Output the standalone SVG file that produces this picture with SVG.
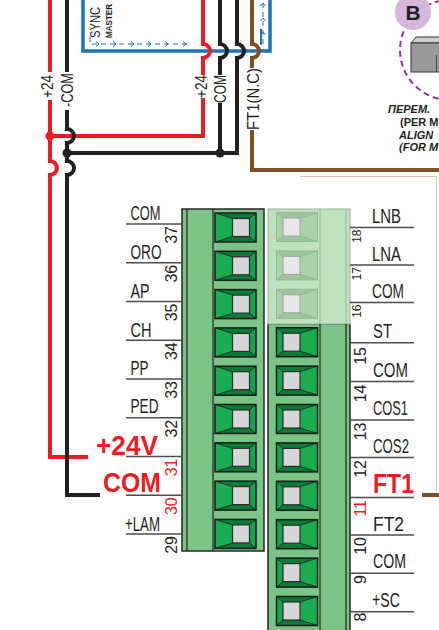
<svg xmlns="http://www.w3.org/2000/svg" width="439" height="630" viewBox="0 0 439 630">
<style>
  .w{fill:none;stroke-width:4;stroke-linejoin:miter}
  .red{stroke:#ed1c24}
  .blk{stroke:#231f20}
  .brn{stroke:#7f4f23}
  .blu{fill:none;stroke:#1c75bc;stroke-width:3.5}
  .dash{fill:none;stroke:#1c75bc;stroke-width:1;stroke-dasharray:5 4}
  .chev{fill:none;stroke:#1c75bc;stroke-width:1}
  .narrow{font-family:"Liberation Sans Narrow","Liberation Sans",Arial,sans-serif}
  .lbl{font-size:20px;fill:#231f20}
  .num{font-size:16px;fill:#231f20}
  .sm{font-size:12px;fill:#231f20}
  .wl{font-size:17px;fill:#231f20}
  .hot{font-family:"Liberation Sans",Arial,sans-serif;font-weight:bold;font-size:28px;fill:#ed1c24}
  .sep{stroke:#4d4d4d;stroke-width:1.5}
  .body{fill:#7bc485;stroke:#262626;stroke-width:1.5}
  .pale{fill:#bfe1bf;stroke:#a3c4a3;stroke-width:1.2}
  .note{font-family:"Liberation Sans",Arial,sans-serif;font-weight:bold;font-size:11px;fill:#231f20}
</style>
<defs>
  <!-- screw clamp, opening on the right side -->
  <g id="screw">
    <rect x="-20.5" y="-14.5" width="41" height="29" fill="#12a04a"/>
    <polygon points="-20.5,-14.5 20.5,-14.5 14,-9 -3,-9" fill="#0b7c36"/>
    <polygon points="-20.5,14.5 20.5,14.5 14,9 -3,9" fill="#0b7c36"/>
    <polygon points="-20.5,-14.5 -3,-9 -3,9 -20.5,14.5" fill="#17ad50"/>
    <polygon points="20.5,-14.5 20.5,14.5 14,9 14,-9" fill="#14a54c"/>
    <path d="M-20.5,-14.5 L-3,-9 M20.5,-14.5 L14,-9 M-20.5,14.5 L-3,9 M20.5,14.5 L14,9" stroke="#1a1a1a" stroke-width="0.8"/>
    <rect x="-20.5" y="-14.5" width="41" height="29" fill="none" stroke="#1a1a1a" stroke-width="1.5"/>
    <rect x="-3" y="-9" width="17" height="18" fill="#d6d6d6" stroke="#2a2a2a" stroke-width="1.2"/>
  </g>
  <!-- unused (blank) clamp -->
  <g id="screwPale">
    <rect x="-20.5" y="-14.5" width="41" height="29" fill="#a8d2a8"/>
    <polygon points="-20.5,-14.5 20.5,-14.5 14,-9 -3,-9" fill="#9bc69b"/>
    <polygon points="-20.5,14.5 20.5,14.5 14,9 -3,9" fill="#9bc69b"/>
    <path d="M-20.5,-14.5 L-3,-9 M20.5,-14.5 L14,-9 M-20.5,14.5 L-3,9 M20.5,14.5 L14,9" stroke="#8fb58f" stroke-width="0.8"/>
    <rect x="-20.5" y="-14.5" width="41" height="29" fill="none" stroke="#94bb94" stroke-width="1"/>
    <rect x="-3" y="-9" width="17" height="18" fill="#e8e8e8" stroke="#a0a0a0" stroke-width="1"/>
  </g>
</defs>

<rect width="439" height="630" fill="#ffffff"/>

<!-- SYNC / MASTER frame -->
<g id="sync">
  <path class="blu" d="M83,0 V51 H270 V0"/>
  <text class="narrow" font-size="15" fill="#231f20" transform="translate(100,38) rotate(-90)" textLength="31" lengthAdjust="spacingAndGlyphs">SYNC</text>
  <text font-family="Liberation Sans, Arial, sans-serif" font-weight="bold" font-size="9" fill="#231f20" transform="translate(112,38) rotate(-90)" textLength="34" lengthAdjust="spacingAndGlyphs">MASTER</text>
  <path class="dash" d="M90,37 V44 H188"/>
  <path class="chev" d="M96,41.5 L99,44 L96,46.5 M113,41.5 L116,44 L113,46.5 M131,41.5 L134,44 L131,46.5 M148,41.5 L151,44 L148,46.5 M165,41.5 L168,44 L165,46.5 M183,41.5 L186,44 L183,46.5"/>
  <path class="dash" d="M263,44 V0"/>
  <path d="M261,29 V45" stroke="#1c75bc" stroke-width="2"/>
  <path class="chev" d="M260.5,6 L263,3 L265.5,6 M260.5,21 L263,18 L265.5,21 M260.5,35 L263,32 L265.5,35"/>
</g>

<!-- connectors -->
<g id="wires">
  <!-- +24 supply -->
  <path class="w red" d="M50,0 V72"/>
  <path class="w red" d="M50,100 V161 A7,7 0 0 1 50,175 V457 H88"/>
  <path class="w red" d="M203,0 V44 A7,7 0 0 1 203,58 V75"/>
  <path class="w red" d="M203,98 V136 H50"/>
  <circle cx="50" cy="136" r="4.5" fill="#ed1c24"/>
  <!-- COM return -->
  <path class="w blk" d="M67,0 V72"/>
  <path class="w blk" d="M67,110 V129 A7,7 0 0 1 67,143 V161 A7,7 0 0 1 67,175 V495 H100"/>
  <path class="w blk" d="M220,0 V44 A7,7 0 0 1 220,58 V75"/>
  <path class="w blk" d="M220,103 V153"/>
  <path class="w blk" d="M237,0 V44 A7,7 0 0 1 237,58 V153 H67"/>
  <circle cx="67" cy="153" r="4.5" fill="#231f20"/>
  <circle cx="220" cy="153" r="4.5" fill="#231f20"/>
  <!-- FT1 (N.C) -->
  <path class="w brn" d="M252,0 V44 A7,7 0 0 1 252,58 V68"/>
  <path class="w brn" d="M252,130 V170 H439"/>
  <path d="M300,176.5 H436.5 V492" fill="none" stroke="#d8c6b3" stroke-width="1"/>
  <path class="w brn" d="M422,495 H439"/>
  <!-- wire names -->
  <text class="narrow wl" text-anchor="middle" transform="translate(53,86.5) rotate(-90)" textLength="23" lengthAdjust="spacingAndGlyphs">+24</text>
  <text class="narrow wl" text-anchor="middle" transform="translate(72.5,90) rotate(-90)" textLength="34" lengthAdjust="spacingAndGlyphs">-COM</text>
  <text class="narrow wl" text-anchor="middle" transform="translate(207,86.5) rotate(-90)" textLength="23" lengthAdjust="spacingAndGlyphs">+24</text>
  <text class="narrow wl" text-anchor="middle" transform="translate(225.5,89) rotate(-90)" textLength="28" lengthAdjust="spacingAndGlyphs">COM</text>
  <text class="narrow wl" text-anchor="middle" transform="translate(258.5,99) rotate(-90)" textLength="62" lengthAdjust="spacingAndGlyphs">FT1(N.C)</text>
</g>

<!-- accessory detail B -->
<g id="detailB">
  <circle cx="450" cy="50" r="50" fill="none" stroke="#8e3a98" stroke-width="2" stroke-dasharray="6 4"/>
  <circle cx="413" cy="12" r="18" fill="#d7b6de"/>
  <text x="413" y="20" text-anchor="middle" font-family="Liberation Sans, Arial, sans-serif" font-weight="bold" font-size="21" fill="#231f20">B</text>
  <polygon points="411,43 416,37 440,37 440,43" fill="#cfcfcf" stroke="#333" stroke-width="1"/>
  <rect x="411" y="43" width="30" height="29" fill="#9a9a9a" stroke="#333" stroke-width="1"/>
  <path d="M436.5,55 V72" stroke="#444" stroke-width="1"/>
  <text class="note" font-style="italic" x="388" y="113">ПЕРЕМ.</text>
  <text class="note" x="400" y="126">(PER M</text>
  <text class="note" font-style="italic" x="399" y="139">ALIGN</text>
  <text class="note" font-style="italic" x="399" y="151">(FOR M</text>
</g>

<!-- terminal block 29-37 -->
<g id="block-left">
  <rect class="body" x="182" y="209" width="82" height="342"/>
  <path d="M187,209 V551 M213,209 V551" stroke="#262626" stroke-width="1.2"/>
  <use href="#screw" x="235.5" y="227.5"/>
  <use href="#screw" x="235.5" y="265.8"/>
  <use href="#screw" x="235.5" y="304.1"/>
  <use href="#screw" x="235.5" y="342.4"/>
  <use href="#screw" x="235.5" y="380.7"/>
  <use href="#screw" x="235.5" y="419"/>
  <use href="#screw" x="235.5" y="457.3"/>
  <use href="#screw" x="235.5" y="495.6"/>
  <use href="#screw" x="235.5" y="533.9"/>
</g>

<g id="labels-left">
  <path class="sep" d="M126,224 H182 M126,262.75 H182 M126,301.5 H182 M126,340.25 H182 M126,379 H182 M126,417.75 H182 M126,456.5 H182 M126,495.25 H182 M126,534 H182"/>
  <text class="narrow lbl" x="130.5" y="220" textLength="30" lengthAdjust="spacingAndGlyphs">COM</text>
  <text class="narrow lbl" x="130.5" y="258.5" textLength="31" lengthAdjust="spacingAndGlyphs">ORO</text>
  <text class="narrow lbl" x="130.5" y="297.5" textLength="19" lengthAdjust="spacingAndGlyphs">AP</text>
  <text class="narrow lbl" x="130.5" y="336.5" textLength="21" lengthAdjust="spacingAndGlyphs">CH</text>
  <text class="narrow lbl" x="130.5" y="375" textLength="18" lengthAdjust="spacingAndGlyphs">PP</text>
  <text class="narrow lbl" x="130.5" y="413" textLength="28" lengthAdjust="spacingAndGlyphs">PED</text>
  <text class="hot" x="96" y="455" textLength="62" lengthAdjust="spacingAndGlyphs">+24V</text>
  <text class="hot" x="103" y="492" textLength="58" lengthAdjust="spacingAndGlyphs">COM</text>
  <text class="narrow lbl" x="125" y="530.5" textLength="35" lengthAdjust="spacingAndGlyphs">+LAM</text>
  <g class="narrow num" text-anchor="end">
    <text transform="translate(177,226) rotate(-90)">37</text>
    <text transform="translate(177,264.75) rotate(-90)">36</text>
    <text transform="translate(177,303.5) rotate(-90)">35</text>
    <text transform="translate(177,342.25) rotate(-90)">34</text>
    <text transform="translate(177,381) rotate(-90)">33</text>
    <text transform="translate(177,419.75) rotate(-90)">32</text>
    <text transform="translate(177,458.5) rotate(-90)" fill="#ed1c24">31</text>
    <text transform="translate(177,497.25) rotate(-90)" fill="#ed1c24">30</text>
    <text transform="translate(177,536) rotate(-90)">29</text>
  </g>
</g>

<!-- terminal block 8-18 -->
<g id="block-right">
  <rect class="body" x="268" y="324" width="82" height="308"/>
  <rect class="pale" x="268" y="209" width="82" height="115"/>
  <path d="M320,209 V324 M346,209 V324" stroke="#9fc39f" stroke-width="1.2"/>
  <path d="M320,324 V631 M346,324 V631" stroke="#262626" stroke-width="1.2"/>
  <use href="#screwPale" transform="translate(297,227) scale(-1,1)"/>
  <use href="#screwPale" transform="translate(297,265.4) scale(-1,1)"/>
  <use href="#screwPale" transform="translate(297,303.8) scale(-1,1)"/>
  <use href="#screw" transform="translate(297,342.2) scale(-1,1)"/>
  <use href="#screw" transform="translate(297,380.6) scale(-1,1)"/>
  <use href="#screw" transform="translate(297,419) scale(-1,1)"/>
  <use href="#screw" transform="translate(297,457.4) scale(-1,1)"/>
  <use href="#screw" transform="translate(297,495.8) scale(-1,1)"/>
  <use href="#screw" transform="translate(297,534.2) scale(-1,1)"/>
  <use href="#screw" transform="translate(297,572.6) scale(-1,1)"/>
  <use href="#screw" transform="translate(297,611) scale(-1,1)"/>
</g>

<g id="labels-right">
  <path class="sep" d="M350,227.5 H414 M350,265 H414 M350,302.5 H414 M350,342.7 H414 M350,381.5 H414 M350,420 H414 M350,457.5 H414 M350,497.5 H414 M350,535 H414 M350,573.3 H414 M350,611.7 H414"/>
  <text class="narrow lbl" x="372" y="223" textLength="29" lengthAdjust="spacingAndGlyphs">LNB</text>
  <text class="narrow lbl" x="372" y="260.5" textLength="29" lengthAdjust="spacingAndGlyphs">LNA</text>
  <text class="narrow lbl" x="372" y="298" textLength="32" lengthAdjust="spacingAndGlyphs">COM</text>
  <text class="narrow lbl" x="373" y="338" textLength="19" lengthAdjust="spacingAndGlyphs">ST</text>
  <text class="narrow lbl" x="373" y="376.5" textLength="35" lengthAdjust="spacingAndGlyphs">COM</text>
  <text class="narrow lbl" x="373" y="414.5" textLength="35" lengthAdjust="spacingAndGlyphs">COS1</text>
  <text class="narrow lbl" x="373" y="453" textLength="36" lengthAdjust="spacingAndGlyphs">COS2</text>
  <text class="hot" x="373" y="492.5" textLength="41" lengthAdjust="spacingAndGlyphs">FT1</text>
  <text class="narrow lbl" x="373" y="531" textLength="31" lengthAdjust="spacingAndGlyphs">FT2</text>
  <text class="narrow lbl" x="373" y="568" textLength="33" lengthAdjust="spacingAndGlyphs">COM</text>
  <text class="narrow lbl" x="372" y="607" textLength="28" lengthAdjust="spacingAndGlyphs">+SC</text>
  <g class="narrow sm" text-anchor="end">
    <text transform="translate(361,229.5) rotate(-90)">18</text>
    <text transform="translate(361,267) rotate(-90)">17</text>
    <text transform="translate(361,304.5) rotate(-90)">16</text>
  </g>
  <g class="narrow num" text-anchor="end">
    <text transform="translate(366,347) rotate(-90)">15</text>
    <text transform="translate(366,384.5) rotate(-90)">14</text>
    <text transform="translate(366,422.5) rotate(-90)">13</text>
    <text transform="translate(366,460) rotate(-90)">12</text>
    <text transform="translate(366,500) rotate(-90)" fill="#ed1c24">11</text>
    <text transform="translate(366,537) rotate(-90)">10</text>
    <text transform="translate(366,575) rotate(-90)">9</text>
    <text transform="translate(366,612.5) rotate(-90)">8</text>
  </g>
</g>
</svg>
